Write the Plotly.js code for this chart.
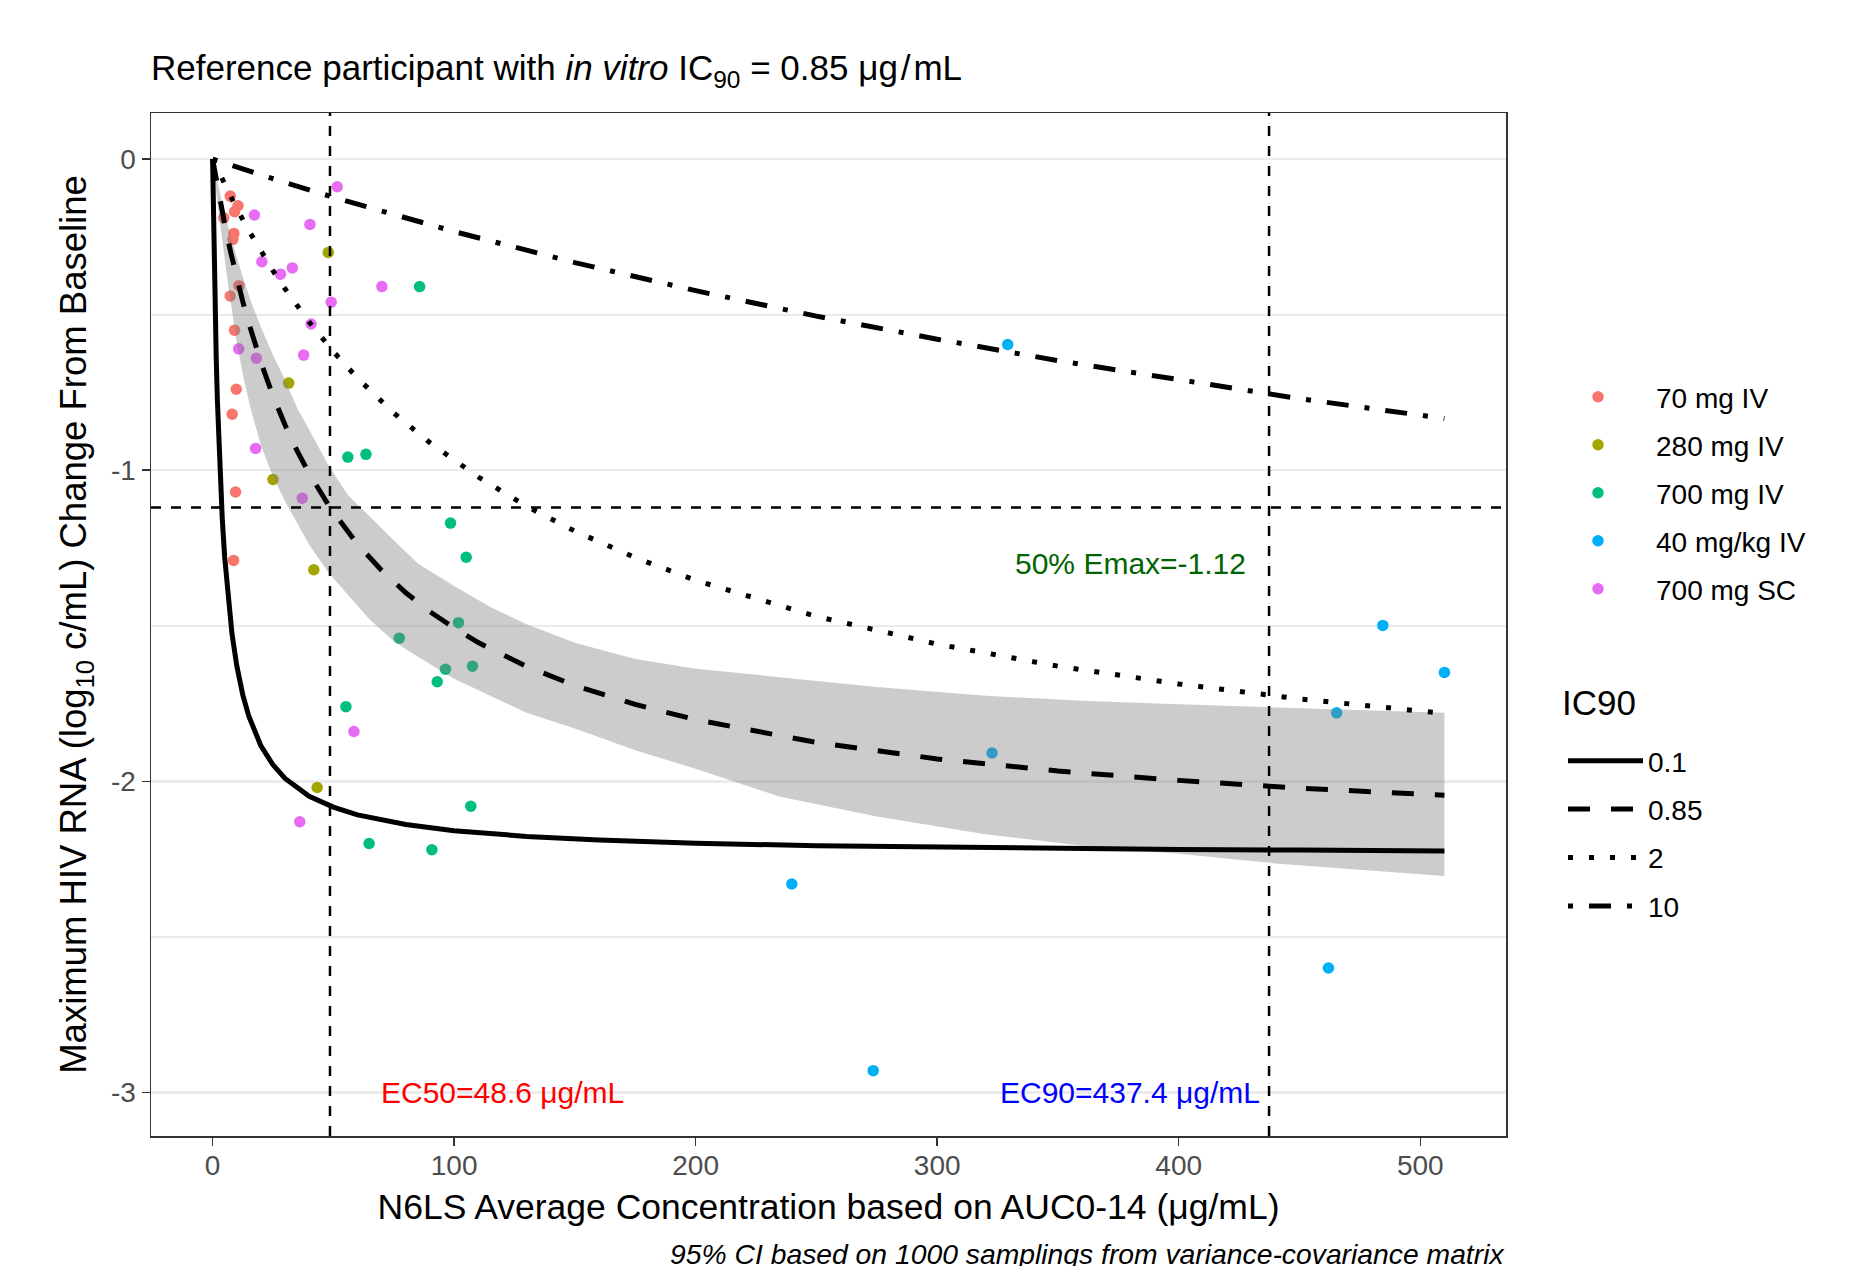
<!DOCTYPE html>
<html>
<head>
<meta charset="utf-8">
<script src="https://cdn.plot.ly/plotly-3.0.1.min.js"></script>
<style>
  html, body { margin: 0; padding: 0; background: #ffffff; }
  #chart { width: 1869px; height: 1266px; }
</style>
</head>
<body>
<div id="chart"></div>
<script>
const groupNames = ["70 mg IV", "280 mg IV", "700 mg IV", "40 mg/kg IV", "700 mg SC"];
const groupColors = ["#F8766D", "#A3A500", "#00BF7D", "#00B0F6", "#E76BF3"];

const conc70mgIV = [7.3, 10.5, 9.1, 4.6, 8.8, 8.4, 10.9, 7.3, 9.1, 9.8, 8.1, 9.5, 8.7];
const resp70mgIV = [-0.119, -0.150, -0.169, -0.189, -0.239, -0.258, -0.407, -0.44, -0.55, -0.74, -0.82, -1.07, -1.29];

const conc280mgIV = [47.9, 31.5, 25.0, 41.9, 43.3];
const resp280mgIV = [-0.30, -0.72, -1.03, -1.32, -2.02];

const conc700mgIV = [85.7, 56.0, 63.5, 98.5, 105.0, 101.8, 77.3, 96.4, 107.6, 93.0, 55.2, 106.9, 64.8, 90.8];
const resp700mgIV = [-0.41, -0.958, -0.949, -1.17, -1.28, -1.49, -1.54, -1.64, -1.63, -1.68, -1.76, -2.08, -2.20, -2.22];

const conc40mgkgIV = [329.2, 484.5, 510.0, 465.4, 322.7, 239.8, 462.0, 273.5];
const resp40mgkgIV = [-0.596, -1.499, -1.65, -1.78, -1.909, -2.33, -2.60, -2.93];

const conc700mgSC = [51.6, 17.3, 40.3, 20.4, 28.1, 33.0, 70.1, 49.1, 40.8, 10.8, 18.1, 37.7, 17.8, 37.1, 58.5, 36.1];
const resp700mgSC = [-0.089, -0.18, -0.21, -0.33, -0.37, -0.35, -0.41, -0.46, -0.53, -0.61, -0.64, -0.63, -0.93, -1.09, -1.84, -2.13];

// ---------------- Model curves ----------------
const ic90Title = "IC90";
const ic90Labels = ["0.1", "0.85", "2", "10"];

const curveX_ic01 = [0, 0.25, 0.5, 1, 1.5, 2, 3, 4, 5, 6, 8, 10, 12.5, 15, 20, 25, 30, 40, 50, 60, 80, 100, 130, 160, 200, 250, 300, 350, 400, 450, 510];
const curveY_ic01 = [0, -0.140, -0.263, -0.471, -0.639, -0.778, -0.994, -1.155, -1.279, -1.377, -1.524, -1.628, -1.722, -1.791, -1.886, -1.947, -1.991, -2.048, -2.083, -2.108, -2.139, -2.159, -2.177, -2.189, -2.199, -2.207, -2.212, -2.216, -2.219, -2.221, -2.224];

const curveX_ic085 = [0, 1, 2, 3, 5, 7.5, 10, 12.5, 15, 20, 25, 30, 35, 40, 48.6, 55, 60, 70, 80, 90, 100, 110, 130, 150, 175, 200, 250, 300, 350, 400, 450, 510];
const curveY_ic085 = [0, -0.045, -0.089, -0.130, -0.209, -0.300, -0.382, -0.458, -0.528, -0.653, -0.761, -0.855, -0.938, -1.011, -1.120, -1.189, -1.238, -1.322, -1.394, -1.455, -1.507, -1.554, -1.631, -1.692, -1.753, -1.802, -1.875, -1.928, -1.967, -1.997, -2.022, -2.045];

const curveX_ic2 = [0, 5, 10, 15, 20, 25, 30, 40, 50, 60, 75, 90, 110, 130, 150, 175, 200, 250, 300, 350, 400, 450, 510];
const curveY_ic2 = [0, -0.082, -0.159, -0.230, -0.297, -0.359, -0.417, -0.524, -0.619, -0.704, -0.816, -0.912, -1.022, -1.116, -1.196, -1.281, -1.354, -1.470, -1.559, -1.630, -1.687, -1.735, -1.782];

const curveX_ic10 = [0, 10, 25, 50, 75, 100, 150, 200, 250, 300, 350, 400, 450, 510];
const curveY_ic10 = [0, -0.026, -0.063, -0.123, -0.180, -0.233, -0.333, -0.423, -0.505, -0.579, -0.648, -0.711, -0.770, -0.834];

// 95% CI band around the IC90 = 0.85 curve
const bandX     = [0, 2, 4, 6, 8, 10, 13, 16, 20, 25, 30, 35, 40, 48, 56, 65, 75, 85, 100, 115, 130, 150, 175, 200, 235, 275, 320, 360, 400, 440, 480, 510];
const bandUpper = [0, -0.074, -0.142, -0.205, -0.262, -0.316, -0.39, -0.46, -0.54, -0.63, -0.71, -0.80, -0.87, -0.985, -1.08, -1.15, -1.225, -1.30, -1.372, -1.44, -1.495, -1.555, -1.607, -1.638, -1.666, -1.697, -1.725, -1.741, -1.752, -1.763, -1.773, -1.78];
const bandLower = [0, -0.14, -0.26, -0.38, -0.49, -0.59, -0.71, -0.81, -0.92, -1.02, -1.10, -1.17, -1.24, -1.33, -1.40, -1.48, -1.55, -1.60, -1.67, -1.725, -1.78, -1.83, -1.90, -1.96, -2.05, -2.113, -2.17, -2.207, -2.233, -2.264, -2.287, -2.304];

// Reference values
const ec50 = 48.6;
const ec90 = 437.4;
const halfEmax = -1.12;

// Axis ticks
const xTickVals = [0, 100, 200, 300, 400, 500];
const xTickText = ["0", "100", "200", "300", "400", "500"];
const yTickVals = [0, -1, -2, -3];
const yTickText = ["0", "-1", "-2", "-3"];

// ---------------- Build traces ----------------
const FONT = "Liberation Sans, Arial, Helvetica, sans-serif";
const concs = [conc70mgIV, conc280mgIV, conc700mgIV, conc40mgkgIV, conc700mgSC];
const resps = [resp70mgIV, resp280mgIV, resp700mgIV, resp40mgkgIV, resp700mgSC];

const traces = [];
groupNames.forEach((name, i) => {
  traces.push({
    type: "scatter", mode: "markers", name: name,
    x: concs[i], y: resps[i],
    marker: { color: groupColors[i], size: 11.5, line: { width: 0 } },
    legend: "legend", legendgroup: "g" + i, hoverinfo: "x+y+name"
  });
});

// CI ribbon polygon (upper forward, lower backward)
traces.push({
  type: "scatter", mode: "lines", name: "95% CI",
  x: bandX.concat(bandX.slice().reverse()),
  y: bandUpper.concat(bandLower.slice().reverse()),
  fill: "toself", fillcolor: "rgba(127,127,127,0.4)",
  line: { width: 0, color: "rgba(0,0,0,0)" },
  showlegend: false, hoverinfo: "skip"
});

const curveXs = [curveX_ic01, curveX_ic085, curveX_ic2, curveX_ic10];
const curveYs = [curveY_ic01, curveY_ic085, curveY_ic2, curveY_ic10];
const dashes = ["solid", "22px,21px", "5px,16px", "5px,16px,22px,16px"];
ic90Labels.forEach((lab, i) => {
  traces.push({
    type: "scatter", mode: "lines", name: lab,
    x: curveXs[i], y: curveYs[i],
    line: { color: "#000000", width: 5, dash: dashes[i] },
    legend: "legend2", legendgroup: "l" + i, hoverinfo: "x+y+name"
  });
});

// ---------------- Layout ----------------
const W = 1869, H = 1266;
const PL = 151, PR = 1506, PT = 113, PB = 1136;
const px2paperX = (px) => (px - PL) / (PR - PL);
const px2paperY = (py) => (PB - py) / (PB - PT);

const layout = {
  width: W, height: H,
  paper_bgcolor: "#ffffff", plot_bgcolor: "#ffffff",
  font: { family: FONT, color: "#000000" },
  margin: { l: PL, r: W - PR, t: PT, b: H - PB, pad: 0 },
  title: {
    text: "Reference participant with <i>in vitro</i> IC<sub>90</sub> = 0.85 μg\u200A/\u200AmL",
    font: { family: FONT, size: 35, color: "#000000" },
    x: PL / W, xref: "container", xanchor: "left",
    y: 1 - 68 / H, yref: "container", yanchor: "middle"
  },
  xaxis: {
    range: [-25.5, 535.5], autorange: false,
    tickvals: xTickVals, ticktext: xTickText,
    ticks: "outside", ticklen: 8, tickwidth: 1.5, tickcolor: "#333333",
    tickfont: { family: FONT, size: 28, color: "#4D4D4D" },
    ticklabelstandoff: -4,
    showgrid: false, zeroline: false,
    showline: true, mirror: true, linecolor: "#333333", linewidth: 1.5,
    title: { text: "N6LS Average Concentration based on AUC0-14 (μg/mL)", font: { family: FONT, size: 35.5, color: "#000000" }, standoff: 13.5 }
  },
  yaxis: {
    range: [-3.14, 0.148], autorange: false,
    tickvals: yTickVals, ticktext: yTickText,
    ticks: "outside", ticklen: 8, tickwidth: 1.5, tickcolor: "#333333",
    tickfont: { family: FONT, size: 28, color: "#4D4D4D" },
    showgrid: true, gridcolor: "#EBEBEB", gridwidth: 2.5,
    minor: { dtick: 0.5, tick0: 0, showgrid: true, gridcolor: "#EBEBEB", gridwidth: 2, ticks: "" },
    zeroline: false,
    showline: true, mirror: true, linecolor: "#333333", linewidth: 1.5,
    title: { text: "Maximum HIV RNA (log<sub>10</sub> c/mL) Change From Baseline", font: { family: FONT, size: 36.5, color: "#000000" }, standoff: 13 }
  },
  legend: {
    xref: "container", yref: "container",
    x: 1540 / W, xanchor: "left",
    y: 1 - 372 / H, yanchor: "top",
    font: { family: FONT, size: 28, color: "#000000" },
    tracegroupgap: 8.6, itemwidth: 106, bgcolor: "rgba(0,0,0,0)", borderwidth: 0
  },
  legend2: {
    xref: "container", yref: "container",
    x: 1563 / W, xanchor: "left",
    y: 1 - 736 / H, yanchor: "top",
    font: { family: FONT, size: 28, color: "#000000" },
    tracegroupgap: 9, itemwidth: 75, bgcolor: "rgba(0,0,0,0)", borderwidth: 0
  },
  shapes: [
    { type: "line", xref: "x", yref: "y domain", x0: ec50, x1: ec50, y0: 0, y1: 1, line: { color: "#000000", width: 2.5, dash: "10px,10px" }, layer: "above" },
    { type: "line", xref: "x", yref: "y domain", x0: ec90, x1: ec90, y0: 0, y1: 1, line: { color: "#000000", width: 2.5, dash: "10px,10px" }, layer: "above" },
    { type: "line", xref: "x domain", yref: "y", x0: 0, x1: 1, y0: halfEmax, y1: halfEmax, line: { color: "#000000", width: 2.5, dash: "10px,10px" }, layer: "above" }
  ],
  annotations: [
    { xref: "x", yref: "y", x: 380, y: -1.3, text: "50% Emax=" + halfEmax, showarrow: false, xanchor: "center", yanchor: "middle", font: { family: FONT, size: 30, color: "#006400" } },
    { xref: "x", yref: "y", x: 120, y: -3.0, text: "EC50=" + ec50 + " μg/mL", showarrow: false, xanchor: "center", yanchor: "middle", font: { family: FONT, size: 30, color: "#FF0000" } },
    { xref: "x", yref: "y", x: 380, y: -3.0, text: "EC90=" + ec90 + " μg/mL", showarrow: false, xanchor: "center", yanchor: "middle", font: { family: FONT, size: 30, color: "#0000FF" } },
    { xref: "paper", yref: "paper", x: px2paperX(1560), y: px2paperY(703), text: ic90Title, showarrow: false, xanchor: "left", yanchor: "middle", font: { family: FONT, size: 35, color: "#000000" } },
    { xref: "paper", yref: "paper", x: 1, y: px2paperY(1254), text: "<i>95% CI based on 1000 samplings from variance-covariance matrix</i>", showarrow: false, xanchor: "right", yanchor: "middle", font: { family: FONT, size: 28.3, color: "#000000" } }
  ],
  showlegend: true
};

Plotly.newPlot("chart", traces, layout, { displayModeBar: false, staticPlot: true });
</script>
</body>
</html>
